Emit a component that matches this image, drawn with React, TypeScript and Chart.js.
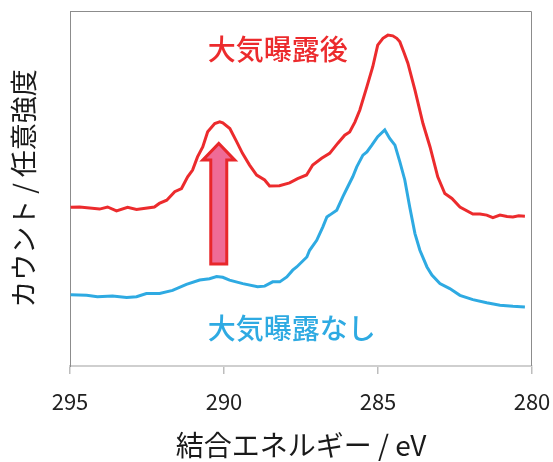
import React, { useEffect, useRef } from "react";
import { Chart, registerables } from "chart.js";

Chart.register(...registerables);

// Binding energy (eV) and intensity (arb. units) – after air exposure
const exposedEnergy = [
  294.98, 294.69, 294.04, 293.78, 293.49, 293.13, 292.84, 292.26, 292.1, 291.86,
  291.6, 291.38, 291.18, 291.02, 290.86, 290.69, 290.53, 290.3, 290.14, 290.04,
  289.81, 289.59, 289.4, 289.17, 288.94, 288.68, 288.52, 288.2, 287.87, 287.61,
  287.32, 287.12, 286.83, 286.57, 286.31, 286.08, 285.92, 285.75, 285.59, 285.36,
  285.17, 285.01, 284.84, 284.68, 284.52, 284.39, 284.29, 284.16, 284.03, 283.8,
  283.54, 283.31, 283.06, 282.83, 282.6, 282.34, 281.92, 281.69, 281.47, 281.27,
  281.04, 280.81, 280.62, 280.43, 280.23,
];
const exposedCounts = [
  44.7, 44.8, 44.2, 44.8, 43.7, 44.7, 44.1, 44.8, 45.8, 46.7,
  49.1, 50.0, 53.3, 55.2, 58.9, 61.7, 66.0, 68.3, 68.8, 68.5,
  66.9, 63.2, 59.9, 56.6, 53.8, 52.4, 50.7, 50.8, 51.6, 52.8,
  53.8, 56.6, 58.5, 59.9, 62.7, 65.0, 65.9, 68.7, 72.1, 78.7,
  84.3, 90.4, 92.3, 93.2, 93.0, 92.3, 91.3, 88.4, 85.3, 77.7,
  68.3, 61.7, 53.3, 48.6, 47.2, 44.8, 42.8, 42.8, 42.5, 41.8,
  42.5, 42.1, 42.0, 42.3, 42.2,
];

// Binding energy (eV) and intensity (arb. units) – no air exposure
const pristineEnergy = [
  294.98, 294.46, 294.11, 293.62, 293.16, 292.84, 292.52, 292.09, 291.67, 291.22,
  290.79, 290.47, 290.24, 290.04, 289.82, 289.39, 288.91, 288.68, 288.42, 288.19,
  287.96, 287.77, 287.64, 287.31, 287.22, 286.99, 286.79, 286.66, 286.57, 286.34,
  286.14, 286.01, 285.82, 285.69, 285.49, 285.36, 285.2, 285.01, 284.78, 284.62,
  284.45, 284.29, 284.13, 283.97, 283.8, 283.64, 283.41, 283.25, 282.99, 282.67,
  282.34, 281.92, 281.47, 281.04, 280.62, 280.23,
];
const pristineCounts = [
  20.1, 19.9, 19.5, 19.7, 19.3, 19.5, 20.4, 20.4, 21.3, 23.0,
  24.2, 24.6, 25.2, 25.0, 24.2, 23.2, 22.3, 22.5, 23.7, 23.7,
  25.1, 27.0, 27.9, 30.7, 32.6, 35.4, 39.2, 42.0, 42.5, 43.9,
  47.7, 50.0, 53.3, 56.1, 59.4, 60.3, 62.2, 64.6, 66.5, 64.1,
  62.2, 57.5, 52.4, 44.8, 37.3, 32.6, 27.9, 25.6, 23.2, 21.8,
  19.9, 18.7, 17.8, 17.1, 16.8, 16.6,
];

const xTicks = [295, 290, 285, 280];
const seriesLabels = ["大気曝露後", "大気曝露なし"];

// Annotation anchors in data units (eV, intensity)
const labelAnchors = [
  { x: 290.53, y: 89.3 },
  { x: 290.53, y: 10.6 },
];
const arrowAnchor = { x: 290.17, yBase: 28.7, yHeadBase: 58.0, yTip: 62.7 };

const RED = "#ec2b2d";
const BLUE = "#2eaae2";
const FONT = "'Noto Sans CJK JP', 'Noto Sans', sans-serif";

export default function App() {
  const ref = useRef<HTMLCanvasElement | null>(null);

  useEffect(() => {
    if (!ref.current) return;

    const annotations = {
      id: "annotations",
      afterDatasetsDraw(chart: any) {
        const { ctx, scales } = chart;
        const xs = scales.x;
        const ys = scales.y;
        ctx.save();
        ctx.font = `500 28px ${FONT}`;
        ctx.textBaseline = "middle";
        ctx.textAlign = "left";
        const colors = [RED, BLUE];
        labelAnchors.forEach((a, i) => {
          ctx.fillStyle = colors[i];
          ctx.fillText(seriesLabels[i], xs.getPixelForValue(a.x), ys.getPixelForValue(a.y));
        });
        const cx = xs.getPixelForValue(arrowAnchor.x);
        const yb = ys.getPixelForValue(arrowAnchor.yBase);
        const yh = ys.getPixelForValue(arrowAnchor.yHeadBase);
        const yt = ys.getPixelForValue(arrowAnchor.yTip);
        const sw = 8;
        const hw = 16;
        ctx.beginPath();
        ctx.moveTo(cx - sw, yb);
        ctx.lineTo(cx - sw, yh);
        ctx.lineTo(cx - hw, yh);
        ctx.lineTo(cx, yt);
        ctx.lineTo(cx + hw, yh);
        ctx.lineTo(cx + sw, yh);
        ctx.lineTo(cx + sw, yb);
        ctx.closePath();
        ctx.fillStyle = "#ef6b96";
        ctx.fill();
        ctx.lineWidth = 3;
        ctx.lineJoin = "miter";
        ctx.strokeStyle = "#e8272b";
        ctx.stroke();
        ctx.restore();
      },
      afterDraw(chart: any) {
        const { ctx, chartArea } = chart;
        ctx.save();
        ctx.strokeStyle = "#8c8c8c";
        ctx.lineWidth = 1;
        ctx.beginPath();
        ctx.moveTo(chartArea.left, chartArea.top + 0.5);
        ctx.lineTo(chartArea.right - 0.5, chartArea.top + 0.5);
        ctx.lineTo(chartArea.right - 0.5, chartArea.bottom);
        ctx.stroke();
        ctx.restore();
      },
    };

    const chart = new Chart(ref.current, {
      type: "line",
      data: {
        datasets: [
          {
            label: seriesLabels[0],
            data: exposedEnergy.map((x, i) => ({ x, y: exposedCounts[i] })),
            borderColor: RED,
            borderWidth: 3,
            pointRadius: 0,
            tension: 0,
            fill: false,
          },
          {
            label: seriesLabels[1],
            data: pristineEnergy.map((x, i) => ({ x, y: pristineCounts[i] })),
            borderColor: BLUE,
            borderWidth: 3,
            pointRadius: 0,
            tension: 0,
            fill: false,
          },
        ],
      },
      options: {
        responsive: false,
        animation: false,
        events: [],
        layout: { padding: { left: 0, right: 21, top: 11, bottom: 0 } },
        plugins: {
          legend: { display: false },
          tooltip: { enabled: false },
        },
        scales: {
          x: {
            type: "linear",
            reverse: true,
            min: 280,
            max: 295,
            afterBuildTicks: (scale: any) => {
              scale.ticks = xTicks.map((v) => ({ value: v }));
            },
            afterFit: (scale: any) => {
              scale.height = 96;
              scale.paddingLeft = 0;
              scale.paddingRight = 0;
            },
            ticks: {
              font: { family: FONT, size: 22 },
              color: "#222",
              padding: 14,
              maxRotation: 0,
              callback: (v: any) => String(v),
            },
            grid: {
              drawOnChartArea: false,
              tickLength: 8,
              color: "#bdbdbd",
              lineWidth: 1.5,
            },
            border: { display: true, color: "#cfcfcf", width: 2 },
            title: {
              display: true,
              text: "結合エネルギー / eV",
              font: { family: FONT, size: 28 },
              color: "#1a1a1a",
              padding: { top: 0, bottom: 0 },
            },
          },
          y: {
            min: 0,
            max: 100,
            afterFit: (scale: any) => {
              scale.width = 70;
            },
            ticks: { display: false },
            grid: { display: false },
            border: { display: true, color: "#8c8c8c", width: 1 },
            title: {
              display: true,
              text: "カウント / 任意強度",
              font: { family: FONT, size: 27 },
              color: "#1a1a1a",
              padding: { top: 8, bottom: 0 },
            },
          },
        },
      },
      plugins: [annotations],
    });

    return () => chart.destroy();
  }, []);

  return (
    <div style={{ position: "absolute", left: 0, top: 0, width: 553, height: 462, background: "#fff" }}>
      <canvas ref={ref} width={553} height={462} />
    </div>
  );
}
